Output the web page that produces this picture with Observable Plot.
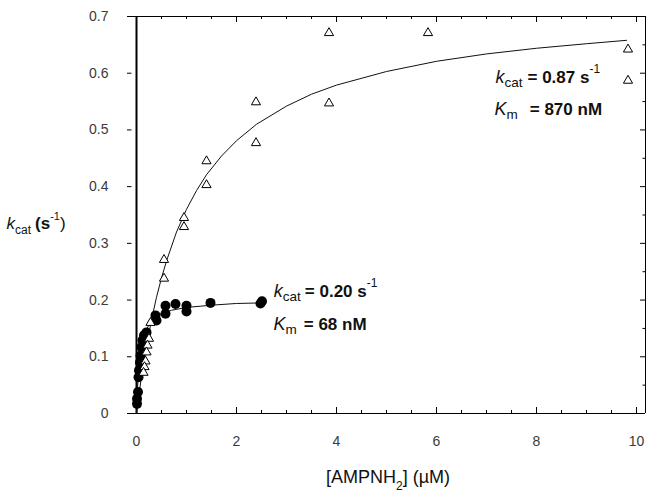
<!DOCTYPE html>
<html><head><meta charset="utf-8">
<script src="https://cdn.jsdelivr.net/npm/d3@7"></script>
<script src="https://cdn.jsdelivr.net/npm/@observablehq/plot@0.6"></script>
<style>html,body{margin:0;padding:0;background:#fff}svg{display:block}</style>
</head><body><div id="chart"></div>
<script>
// Open triangles (high-kcat series)
const triangleX = [9.83, 9.83, 5.83, 3.85, 3.85, 2.39, 2.39, 1.40, 1.40, 0.95, 0.95, 0.55, 0.55, 0.28, 0.25, 0.22, 0.20, 0.18, 0.16, 0.14];
const triangleY = [0.642, 0.587, 0.671, 0.671, 0.547, 0.549, 0.477, 0.445, 0.403, 0.345, 0.329, 0.271, 0.238, 0.160, 0.132, 0.120, 0.108, 0.092, 0.082, 0.072];
// Filled circles (low-kcat series)
const circleX = [0.01, 0.01, 0.03, 0.04, 0.05, 0.07, 0.08, 0.10, 0.12, 0.15, 0.20, 0.38, 0.40, 0.58, 0.58, 0.78, 1.00, 1.00, 1.48, 2.48, 2.51];
const circleY = [0.017, 0.026, 0.038, 0.064, 0.076, 0.090, 0.102, 0.117, 0.129, 0.138, 0.143, 0.173, 0.164, 0.190, 0.176, 0.193, 0.190, 0.180, 0.195, 0.194, 0.198];
// Fitted curves
const fitHighX = [0, 0.05, 0.1, 0.15, 0.2, 0.3, 0.4, 0.5, 0.6, 0.8, 1.0, 1.2, 1.4, 1.7, 2.0, 2.4, 3.0, 3.5, 4.0, 5.0, 6.0, 7.0, 8.0, 9.0, 9.8];
const fitHighY = [0, 0.034, 0.065, 0.093, 0.119, 0.165, 0.205, 0.239, 0.269, 0.320, 0.360, 0.393, 0.421, 0.454, 0.481, 0.510, 0.542, 0.563, 0.579, 0.603, 0.621, 0.634, 0.644, 0.652, 0.658];
const fitLowX = [0, 0.02, 0.05, 0.1, 0.15, 0.2, 0.3, 0.4, 0.5, 0.7, 1.0, 1.5, 2.0, 2.5];
const fitLowY = [0, 0.045, 0.085, 0.119, 0.138, 0.149, 0.163, 0.171, 0.176, 0.182, 0.187, 0.191, 0.194, 0.195];
// Ticks
const xTicks = [0, 2, 4, 6, 8, 10];
const xMinorTicks = [0.5, 1, 1.5, 2.5, 3, 3.5, 4.5, 5, 5.5, 6.5, 7, 7.5, 8.5, 9, 9.5];
const yTicks = [0, 0.1, 0.2, 0.3, 0.4, 0.5, 0.6, 0.7];
const yMinorTicks = [0.05, 0.15, 0.25, 0.35, 0.45, 0.55, 0.65];
// Texts
const xLabelParts = [{t: "[AMPNH", size: 18}, {t: "2", size: 12, shift: 7}, {t: "] (µM)", size: 18}];
const yLabelParts = [{t: "k", italic: true, size: 17}, {t: "cat", size: 12, shift: 5}, {t: "(s", bold: true, size: 17, dx: 4}, {t: "-1", size: 11, shift: -9}, {t: ")", size: 17}];
const annHigh1 = [{t: "k", italic: true, size: 18}, {t: "cat", size: 13.5, shift: 4}, {t: "= 0.87 s", bold: true, size: 17, dx: 5}, {t: "-1", size: 12, shift: -10}];
const annHigh2 = [{t: "K", italic: true, size: 18}, {t: "m", size: 13.5, shift: 4}, {t: "= 870 nM", bold: true, size: 17, dx: 12}];
const annLow1 = [{t: "k", italic: true, size: 18}, {t: "cat", size: 13.5, shift: 4}, {t: "= 0.20 s", bold: true, size: 17, dx: 4}, {t: "-1", size: 12, shift: -10}];
const annLow2 = [{t: "K", italic: true, size: 18}, {t: "m", size: 13.5, shift: 4}, {t: "= 68 nM", bold: true, size: 17, dx: 7}];

const triangles = triangleX.map((x, i) => ({x, y: triangleY[i]}));
const circles = circleX.map((x, i) => ({x, y: circleY[i]}));
const fitHigh = fitHighX.map((x, i) => ({x, y: fitHighY[i]}));
const fitLow = fitLowX.map((x, i) => ({x, y: fitLowY[i]}));
const plain = parts => parts.map(p => p.t).join("");

const X0 = -0.18, X1 = 10.18, Y0 = 0, Y1 = 0.7;
const tMaj = 0.0106, tMin = 0.0053;

const chart = Plot.plot({
  width: 652, height: 497,
  marginLeft: 127, marginRight: 7, marginTop: 16, marginBottom: 84,
  x: {domain: [X0, X1]},
  y: {domain: [Y0, Y1]},
  style: {fontFamily: "'Liberation Sans', Arial, sans-serif", fontSize: "14px", color: "#3a3a3a", background: "#fff"},
  marks: [
    Plot.axisX(xTicks, {tickSize: 0, tickPadding: 23, label: null, fontSize: 14}),
    Plot.axisY(yTicks, {tickSize: 0, tickPadding: 19, label: null, fontSize: 14, tickFormat: d => d === 0 ? "0" : d.toFixed(1)}),
    // frame
    Plot.ruleY([Y0, Y1], {x1: X0, x2: X1, stroke: "#000"}),
    Plot.ruleX([X1], {y1: Y0, y2: Y1, stroke: "#000"}),
    Plot.ruleX([0], {y1: Y0, y2: Y1, stroke: "#000", strokeWidth: 2}),
    // bottom ticks
    Plot.ruleX(xTicks, {y1: Y0, y2: Y0 + tMaj, stroke: "#000"}),
    Plot.ruleX(xMinorTicks, {y1: Y0, y2: Y0 + tMin, stroke: "#000"}),
    // top ticks
    Plot.ruleX(xTicks, {y1: Y1 - tMaj, y2: Y1, stroke: "#000"}),
    Plot.ruleX(xMinorTicks, {y1: Y1 - tMin, y2: Y1, stroke: "#000"}),
    // left dashes
    Plot.ruleY(yTicks, {x1: X0, x2: -0.09, stroke: "#000"}),
    // right ticks
    Plot.ruleY(yTicks, {x1: X1 - 0.1, x2: X1, stroke: "#000"}),
    Plot.ruleY(yMinorTicks, {x1: X1 - 0.05, x2: X1, stroke: "#000"}),
    // curves
    Plot.line(fitHigh, {x: "x", y: "y", stroke: "#111", strokeWidth: 1}),
    Plot.line(fitLow, {x: "x", y: "y", stroke: "#111", strokeWidth: 1}),
    // points
    Plot.dot(circles, {x: "x", y: "y", r: 5, fill: "#000", stroke: "none"}),
    Plot.dot(triangles, {x: "x", y: "y", symbol: "triangle", r: 3.4, fill: "#fff", stroke: "#000", strokeWidth: 1}),
    // texts
    Plot.text([plain(xLabelParts)], {x: 5.03, y: -0.1217, text: d => d, textAnchor: "middle", lineAnchor: "bottom", fill: "#111"}),
    Plot.text([plain(yLabelParts)], {x: -2.6, y: 0.3245, text: d => d, textAnchor: "start", lineAnchor: "bottom", fill: "#111"}),
    Plot.text([plain(annHigh1)], {x: 7.18, y: 0.582, text: d => d, textAnchor: "start", lineAnchor: "bottom", fill: "#111"}),
    Plot.text([plain(annHigh2)], {x: 7.16, y: 0.5256, text: d => d, textAnchor: "start", lineAnchor: "bottom", fill: "#111"}),
    Plot.text([plain(annLow1)], {x: 2.746, y: 0.2046, text: d => d, textAnchor: "start", lineAnchor: "bottom", fill: "#111"}),
    Plot.text([plain(annLow2)], {x: 2.74, y: 0.1473, text: d => d, textAnchor: "start", lineAnchor: "bottom", fill: "#111"})
  ]
});

function rich(svg, parts) {
  const s = plain(parts);
  const el = [...svg.querySelectorAll("text")].find(t => t.textContent === s);
  if (!el) return;
  el.textContent = "";
  let off = 0;
  for (const p of parts) {
    const ts = document.createElementNS("http://www.w3.org/2000/svg", "tspan");
    const shift = p.shift || 0;
    const dy = shift - off; off = shift;
    if (dy) ts.setAttribute("dy", dy);
    if (p.dx) ts.setAttribute("dx", p.dx);
    if (p.size) ts.setAttribute("font-size", p.size);
    if (p.italic) ts.setAttribute("font-style", "italic");
    if (p.bold) ts.setAttribute("font-weight", "bold");
    ts.textContent = p.t;
    el.appendChild(ts);
  }
}
[xLabelParts, yLabelParts, annHigh1, annHigh2, annLow1, annLow2].forEach(p => rich(chart, p));
document.getElementById("chart").appendChild(chart);
</script>
</body></html>
